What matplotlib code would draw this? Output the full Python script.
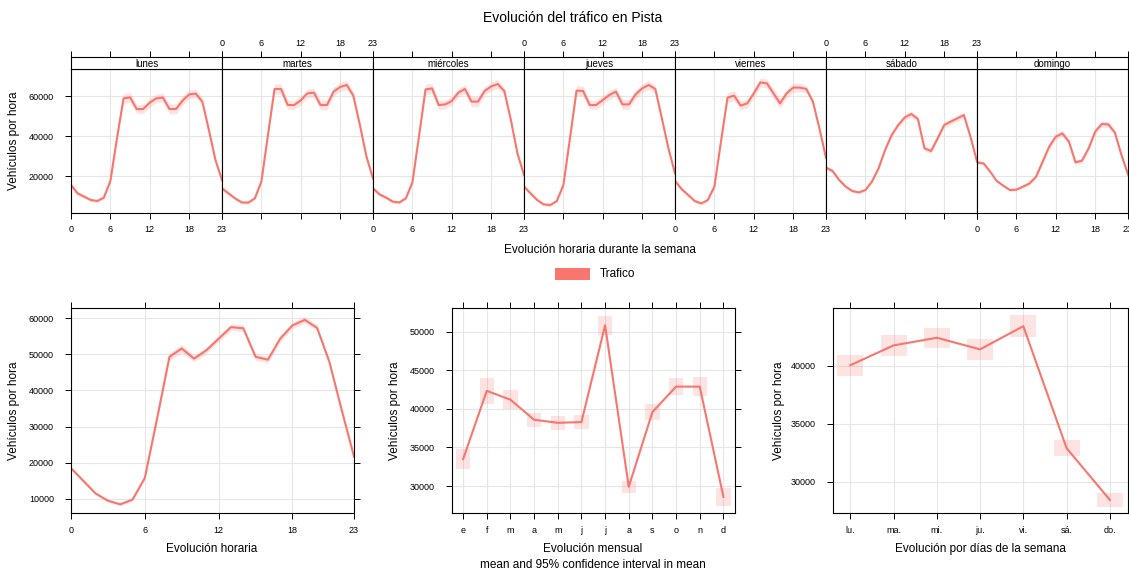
import matplotlib
matplotlib.use("Agg")
import matplotlib.pyplot as plt
from matplotlib.patches import Rectangle
import numpy as np

plt.rcParams["font.family"] = ["Liberation Sans", "DejaVu Sans"]

# hourly profile per weekday (vehicles / hour)
dias = ["lunes", "martes", "miércoles", "jueves", "viernes", "sábado", "domingo"]
lunes = [15500, 11300, 9700, 8000, 7500, 9200, 17500, 38800, 58800, 59300, 53500, 53500,
         56700, 58800, 59200, 53500, 53500, 57700, 60800, 61200, 57200, 43000, 28000, 18000]
martes = [13800, 11300, 8800, 6800, 6700, 8800, 17200, 40500, 63500, 63500, 55500, 55500,
          57800, 61300, 61700, 55500, 55500, 62200, 64500, 65500, 60200, 45500, 29700, 18800]
miercoles = [13800, 10800, 9200, 7200, 6800, 8800, 16800, 39700, 63300, 63800, 55500, 55800,
             57500, 61700, 63500, 57200, 57200, 62500, 64800, 66000, 62500, 48000, 31300, 20500]
jueves = [14700, 11300, 8000, 5800, 5500, 7500, 15500, 38800, 62700, 62500, 55500, 55500,
          58000, 60500, 62200, 55800, 55800, 60800, 63800, 65500, 63500, 48800, 33800, 21300]
viernes = [17500, 13500, 10500, 7500, 6300, 8000, 14700, 37200, 59200, 60200, 55200, 56300,
           61300, 66800, 66300, 61300, 56300, 61300, 64200, 64200, 63500, 57200, 43800, 29000]
sabado = [24200, 22500, 18000, 14700, 12500, 11800, 13000, 17200, 23800, 33000, 40500, 45500,
          49300, 51000, 48500, 33800, 32500, 38800, 45500, 47200, 48800, 50500, 39700, 27200]
domingo = [26800, 26300, 22200, 17500, 15200, 13000, 13200, 14700, 16300, 19700, 27200, 34700,
           39700, 41300, 37200, 26800, 27700, 33800, 42200, 46000, 45800, 41700, 30500, 20800]
semana = [lunes, martes, miercoles, jueves, viernes, sabado, domingo]
# half width of the 95% interval for each hour, weekday and weekend panels
ci_laborable = [1200, 1000, 900, 800, 800, 800, 1000, 1500, 2500, 2500, 2200, 2200,
                2200, 2200, 2200, 2500, 2500, 2200, 2200, 2200, 1800, 1500, 1200, 1000]
ci_finde = [1000, 900, 800, 700, 700, 700, 700, 800, 900, 1000, 1200, 1300,
            1400, 1500, 1400, 1300, 1300, 1300, 1400, 1500, 1500, 1300, 1100, 1000]

horas = list(range(24))
trafico_hora = [18500, 15000, 11500, 9500, 8500, 9800, 15800, 32300, 49300, 51600, 48800, 51100,
                54300, 57500, 57200, 49300, 48500, 54300, 58000, 59500, 57300, 47900, 34600, 21700]
ci_hora = [500, 450, 400, 400, 400, 400, 500, 800, 1100, 1100, 900, 900,
           900, 900, 900, 900, 900, 900, 900, 900, 800, 700, 600, 500]

meses = ["e", "f", "m", "a", "m", "j", "j", "a", "s", "o", "n", "d"]
trafico_mes = [33500, 42350, 41200, 38600, 38200, 38300, 50860, 29900, 39600, 42900, 42900, 28600]
ci_mes = [1300, 1650, 1200, 900, 900, 900, 1250, 750, 1000, 1150, 1200, 1150]

dias_abr = ["lu.", "ma.", "mi.", "ju.", "vi.", "sá.", "do."]
trafico_dia = [40060, 41770, 42430, 41430, 43430, 32900, 28430]
ci_dia = [900, 930, 870, 910, 960, 710, 610]

COL = "#F8766D"
GRID = "#E6E6E6"
W, H = 1129, 573
LAB = 8.5   # axis label size
TCK = 6.5   # tick label size


def fx(px):
    return px / W


def fy(py):
    return 1 - py / H


def style_box(ax):
    for s in ax.spines.values():
        s.set_linewidth(0.8)
        s.set_color("black")
    ax.tick_params(direction="out", length=4.3, width=0.7, labelsize=TCK, colors="black")
    ax.tick_params(axis="x", pad=5)
    ax.tick_params(axis="y", pad=8)
    ax.grid(True, color=GRID, linewidth=0.8)
    ax.set_axisbelow(True)


def ylabel_at(ax, px, x0, width):
    ax.set_ylabel("Vehículos por hora", fontsize=LAB)
    ax.yaxis.set_label_coords((px - x0) / width, 0.5)


fig = plt.figure(figsize=(W / 100, H / 100), dpi=100)

# --- weekly panel: one axes per day, strip on top ---
left, pw = 71, 151
for i, (dia, vals) in enumerate(zip(dias, semana)):
    ci = ci_finde if i >= 5 else ci_laborable
    x0 = left + i * pw
    ax = fig.add_axes([fx(x0), fy(213), fx(pw), (213 - 69) / H])
    style_box(ax)
    v = np.array(vals)
    c = np.array(ci)
    ax.fill_between(horas, v - c, v + c, color=COL, alpha=0.2, linewidth=0)
    ax.plot(horas, v, color=COL, linewidth=1.5)
    ax.set_xlim(0, 23)
    ax.set_ylim(1500, 73500)
    ax.set_xticks([0, 6, 12, 18, 23])
    ax.set_yticks([20000, 40000, 60000])
    ax.tick_params(axis="x", labelbottom=(i % 2 == 0), pad=4)
    ax.tick_params(axis="y", left=(i == 0), labelleft=(i == 0),
                   right=(i == 6), labelright=False)
    if i == 0:
        ylabel_at(ax, 20, x0, pw)

    st = fig.add_axes([fx(x0), fy(69), fx(pw), 12 / H])
    st.set_xlim(0, 23)
    st.set_yticks([])
    st.set_xticks([0, 6, 12, 18, 23])
    st.xaxis.tick_top()
    st.tick_params(axis="x", direction="out", length=4, width=0.7, labelsize=TCK, pad=2.5,
                   labeltop=(i % 2 == 1))
    for s in st.spines.values():
        s.set_linewidth(0.8)
    st.text(0.5, 0.45, dia, transform=st.transAxes, ha="center", va="center", fontsize=7)

fig.text(fx(600), fy(250), "Evolución horaria durante la semana", ha="center", va="center", fontsize=LAB)
fig.text(fx(573), fy(18), "Evolución del tráfico en Pista", ha="center", va="center", fontsize=10)

# legend
fig.patches.append(Rectangle((fx(555), fy(280)), fx(35), 12 / H, transform=fig.transFigure,
                             facecolor=COL, edgecolor="none"))
fig.text(fx(600), fy(274), "Trafico", ha="left", va="center", fontsize=LAB)

bot, bh = fy(513), 205 / H

# --- hour of day ---
ax1 = fig.add_axes([fx(71), bot, fx(283), bh])
style_box(ax1)
v, c = np.array(trafico_hora), np.array(ci_hora)
ax1.fill_between(horas, v - c, v + c, color=COL, alpha=0.2, linewidth=0)
ax1.plot(horas, v, color=COL, linewidth=1.5)
ax1.set_xlim(0, 23)
ax1.set_ylim(6100, 62800)
ax1.set_xticks([0, 6, 12, 18, 23])
ax1.set_yticks([10000, 20000, 30000, 40000, 50000, 60000])
ax1.tick_params(top=True, right=True)
ylabel_at(ax1, 20, 71, 283)
fig.text(fx(212), fy(549), "Evolución horaria", ha="center", va="center", fontsize=LAB)

# --- month ---
ax2 = fig.add_axes([fx(452), bot, fx(283), bh])
style_box(ax2)
xm = np.arange(1, 13)
for x, m, e in zip(xm, trafico_mes, ci_mes):
    ax2.add_patch(Rectangle((x - 0.3, m - e), 0.6, 2 * e, facecolor=COL, alpha=0.2, edgecolor="none"))
ax2.plot(xm, trafico_mes, color=COL, linewidth=1.5)
ax2.set_xlim(0.53, 12.49)
ax2.set_ylim(26500, 53100)
ax2.set_xticks(xm)
ax2.set_xticklabels(meses)
ax2.set_yticks([30000, 35000, 40000, 45000, 50000])
ax2.tick_params(top=True, right=True)
ylabel_at(ax2, 401, 452, 283)
fig.text(fx(593), fy(549), "Evolución mensual", ha="center", va="center", fontsize=LAB)
fig.text(fx(593), fy(565), "mean and 95% confidence interval in mean", ha="center", va="center",
         fontsize=LAB)

# --- day of week ---
ax3 = fig.add_axes([fx(833), bot, fx(295), bh])
style_box(ax3)
xd = np.arange(1, 8)
for x, m, e in zip(xd, trafico_dia, ci_dia):
    ax3.add_patch(Rectangle((x - 0.3, m - e), 0.6, 2 * e, facecolor=COL, alpha=0.2, edgecolor="none"))
ax3.plot(xd, trafico_dia, color=COL, linewidth=1.5)
ax3.set_xlim(0.6, 7.42)
ax3.set_ylim(27300, 45000)
ax3.set_xticks(xd)
ax3.set_xticklabels(dias_abr)
ax3.set_yticks([30000, 35000, 40000])
ax3.tick_params(top=True, right=True)
ylabel_at(ax3, 785, 833, 295)
fig.text(fx(980), fy(549), "Evolución por días de la semana", ha="center", va="center", fontsize=LAB)

fig.savefig("out.png", dpi=100)
